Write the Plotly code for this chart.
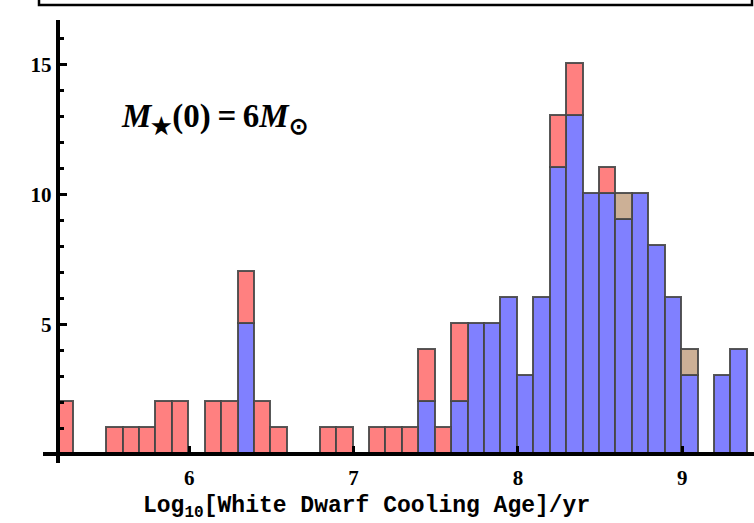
import plotly.graph_objects as go

# ---- data ----
bin_lo = [5.2, 5.3, 5.4, 5.5, 5.6, 5.7, 5.8, 5.9, 6.0, 6.1, 6.2, 6.3, 6.4, 6.5,
          6.6, 6.7, 6.8, 6.9, 7.0, 7.1, 7.2, 7.3, 7.4, 7.5, 7.6, 7.7, 7.8, 7.9,
          8.0, 8.1, 8.2, 8.3, 8.4, 8.5, 8.6, 8.7, 8.8, 8.9, 9.0, 9.1, 9.2, 9.3]
bin_width = 0.1
blue = [0, 0, 0, 0, 0, 0, 0, 0, 0, 0, 0, 5, 0, 0,
        0, 0, 0, 0, 0, 0, 0, 0, 2, 0, 2, 5, 5, 6,
        3, 6, 11, 13, 10, 10, 9, 10, 8, 6, 3, 0, 3, 4]
tan = [0, 0, 0, 0, 0, 0, 0, 0, 0, 0, 0, 0, 0, 0,
       0, 0, 0, 0, 0, 0, 0, 0, 0, 0, 0, 0, 0, 0,
       0, 0, 0, 0, 0, 0, 1, 0, 0, 0, 1, 0, 0, 0]
red = [2, 0, 0, 1, 1, 1, 2, 2, 0, 2, 2, 2, 2, 1,
       0, 0, 1, 1, 0, 1, 1, 1, 2, 1, 3, 0, 0, 0,
       0, 0, 2, 2, 0, 1, 0, 0, 0, 0, 0, 0, 0, 0]
x_ticks = [6, 7, 8, 9]
x_tick_labels = ["6", "7", "8", "9"]
y_major = [5, 10, 15]
y_tick_labels = ["5", "10", "15"]
x_title = "<b>Log<sub>10</sub>[White Dwarf Cooling Age]/yr</b>"
label_text = "<b><i>M</i><sub>★</sub>(0)&#8201;=&#8201;6<i>M</i><sub>⊙</sub></b>"

x_range = [5.11, 9.437]
y_range = [-0.33, 16.7]
x_axis_at = 5.2
y_axis_at = 0

centers = [b + bin_width / 2 for b in bin_lo]
nz = lambda arr: [v if v else None for v in arr]
bold = lambda labels: ["<b>%s</b>" % s for s in labels]

edge = dict(color="rgba(70,70,70,0.9)", width=1.6)
fig = go.Figure()
for vals, col, name in [(blue, "#8080FF", "blue"), (tan, "#CCB096", "tan"), (red, "#FF8080", "red")]:
    fig.add_trace(go.Bar(x=centers, y=nz(vals), width=bin_width, name=name,
                         marker=dict(color=col, line=edge), showlegend=False))

W, H = 754, 523
ml, mr, mt, mb = 43, 0, 20, 60
pw, ph = W - ml - mr, H - mt - mb

def px_x(p):
    return (p - ml) / pw

def px_y(p):
    return 1 - (p - mt) / ph

tickfont = dict(family="Liberation Serif, Times New Roman, serif", size=21, color="black")

fig.update_layout(
    width=W, height=H,
    margin=dict(l=ml, r=mr, t=mt, b=mb, pad=0),
    paper_bgcolor="white", plot_bgcolor="white",
    barmode="stack", bargap=0,
    xaxis=dict(range=x_range, anchor="free",
               position=(y_axis_at - y_range[0]) / (y_range[1] - y_range[0]),
               showline=True, linecolor="black", linewidth=3.5,
               tickmode="array", tickvals=x_ticks, ticktext=bold(x_tick_labels),
               ticks="inside", ticklen=7, tickwidth=3, tickcolor="black",
               tickfont=tickfont, ticklabelstandoff=4, showgrid=False, zeroline=False),
    yaxis=dict(range=y_range, anchor="free",
               position=(x_axis_at - x_range[0]) / (x_range[1] - x_range[0]),
               showline=True, linecolor="black", linewidth=4,
               tickmode="array", tickvals=y_major, ticktext=bold(y_tick_labels),
               ticks="inside", ticklen=7, tickwidth=3, tickcolor="black",
               minor=dict(dtick=1, ticks="inside", ticklen=4, tickwidth=2.5, tickcolor="black"),
               tickfont=tickfont, showgrid=False, zeroline=False),
    annotations=[
        dict(text=label_text,
             xref="paper", yref="paper", x=px_x(119), y=px_y(118),
             xanchor="left", yanchor="middle", showarrow=False,
             font=dict(family="Liberation Serif, Times New Roman, serif", size=33, color="black")),
        dict(text=x_title,
             xref="paper", yref="paper", x=px_x(366), y=px_y(507),
             xanchor="center", yanchor="middle", showarrow=False,
             font=dict(family="Courier New, Liberation Mono, monospace", size=23, color="black")),
    ],
    shapes=[dict(type="rect", xref="paper", yref="paper",
                 x0=px_x(39), x1=px_x(752), y0=px_y(5), y1=px_y(-20),
                 line=dict(color="black", width=2.5), fillcolor="rgba(0,0,0,0)")],
)

fig.write_html("out.html")
